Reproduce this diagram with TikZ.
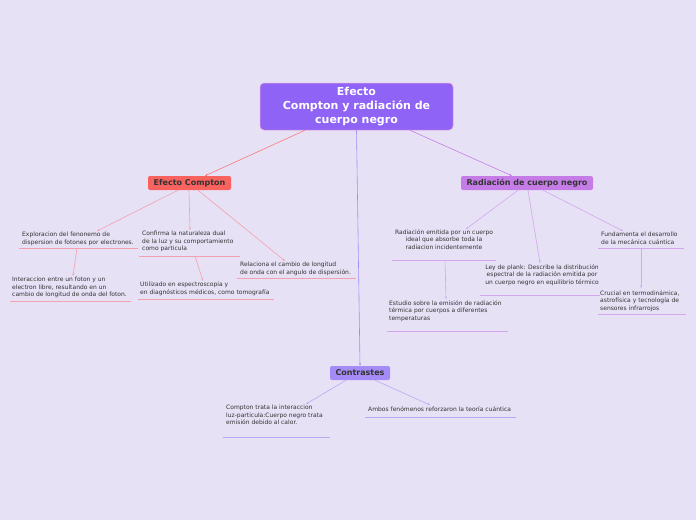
\documentclass[tikz,border=0pt]{standalone}
\usepackage{fontspec}
\setmainfont{DejaVu Sans}
\usetikzlibrary{arrows.meta}
\definecolor{bg}{HTML}{E7E1F6}
\definecolor{rootc}{HTML}{9063F7}
\definecolor{rootb}{HTML}{E7A3D6}
\definecolor{compc}{HTML}{F8625F}
\definecolor{radc}{HTML}{C67CE7}
\definecolor{conc}{HTML}{A48BF5}
\definecolor{compl}{HTML}{F4A0AE}
\definecolor{radl}{HTML}{D4A6EE}
\definecolor{conl}{HTML}{BAAAF5}
\definecolor{txt}{HTML}{333333}
\tikzset{
  hub/.style={rounded corners=2pt, inner xsep=5pt, inner ysep=2pt, text=txt,
     font=\fontsize{8}{9}\selectfont\bfseries, minimum height=14pt},
  leaf/.style={anchor=north west, inner sep=0pt, align=left, text=txt,
     font=\fontsize{6}{7.5}\selectfont},
  leafc/.style={anchor=north, inner sep=0pt, align=center, text=txt,
     font=\fontsize{6}{7.5}\selectfont},
  conn/.style={line width=0.6pt, -{Stealth[length=2.5pt,width=2pt]}},
  ul/.style={line width=0.8pt}
}
\begin{document}
\begin{tikzpicture}[x=1pt,y=-1pt]
\fill[bg] (0,0) rectangle (696,520);
\useasboundingbox (0,0) rectangle (696,520);

% root
\node[fill=rootc, draw=rootb, line width=0.5pt, rounded corners=4pt, minimum width=193pt,
  minimum height=47pt, text=white, align=center, inner sep=0pt,
  font=\fontsize{11}{14}\selectfont\bfseries] (root) at (356.5,106.5)
  {Efecto\\Compton y radiación de\\cuerpo negro};

% hubs
\node[hub, fill=compc, minimum width=83pt] (ec) at (189.5,183) {Efecto Compton};
\node[hub, fill=radc, minimum width=132pt] (rc) at (527,183) {Radiación de cuerpo negro};
\node[hub, fill=conc, minimum width=60pt] (co) at (360,373) {Contrastes};

% root connectors
\draw[conn, draw=compc!85] (root.south -| 305,0) -- (ec.north -| 205,0);
\draw[conn, draw=radc] (root.south -| 410,0) -- (rc.north -| 512,0);
\draw[conn, draw=conc] (root.south) -- (co.north);

% Efecto Compton leaves
\node[leaf] (c1) at (22,232) {Exploracion del fenonemo de\\dispersion de fotones por electrones.};
\draw[ul, compl] (19,248) -- (138,248);
\node[leaf] (c2) at (142,231) {Confirma la naturaleza dual\\de la luz y su comportamiento\\como particula};
\draw[ul, compl] (139,256) -- (240,256);
\node[leaf] (c3) at (240,262) {Relaciona el cambio de longitud\\de onda con el angulo de dispersión.};
\draw[ul, compl] (237,278) -- (356,278);
\node[leaf] (c11) at (12,277) {Interaccion entre un foton y un\\electron libre, resultando en un\\cambio de longitud de onda del foton.};
\draw[ul, compl] (10,301) -- (131,301);
\node[leaf] (c21) at (140,282) {Utilizado en espectroscopia y\\en diagnósticos médicos, como tomografía};
\draw[ul, compl] (138,299) -- (274,299);

\draw[conn, compl] (ec.south -| 178,0) -- (97,231);
\draw[conn, compl] (ec.south -| 189,0) -- (190,230);
\draw[conn, compl] (ec.south -| 198,0) -- (285,261);
\draw[conn, compl] (77,248) -- (73,276);
\draw[conn, compl] (195,256) -- (203,281);

% Radiacion leaves
\node[leafc] (r1) at (444,229) {Radiación emitida por un cuerpo\\ideal que absorbe toda la\\radiacion incidentemente};
\draw[ul, radl] (392,260) -- (496,260);
\node[leaf] (r11) at (389,300) {Estudio sobre la emisión de radiación\\térmica por cuerpos a diferentes\\ temperaturas};
\draw[ul, radl] (387,331) -- (508,331);
\node[leafc] (r2) at (542,264) {Ley de plank: Describe la distribución\\espectral de la radiación emitida por\\un cuerpo negro en equilibrio térmico};
\draw[ul, radl] (480,295) -- (600,295);
\node[leaf] (r3) at (601,232) {Fundamenta el desarrollo\\de la mecánica cuántica};
\draw[ul, radl] (598,248) -- (684,248);
\node[leaf] (r31) at (600,290) {Crucial en termodinámica,\\astrofísica y tecnología de\\sensores infrarrojos};
\draw[ul, radl] (598,314) -- (686,314);

\draw[conn, radl] (rc.south -| 518,0) -- (466,229);
\draw[conn, radl] (rc.south -| 528,0) -- (540,263);
\draw[conn, radl] (rc.south -| 543,0) -- (623,231);
\draw[conn, radl] (445,260) -- (446,299);
\draw[conn, radl] (641,248) -- (641,288);

% Contrastes leaves
\node[leaf] (k1) at (226,405) {Compton trata la interaccion\\luz-particula:Cuerpo negro trata\\emisión debido al calor.};
\draw[ul, conl] (223,437) -- (330,437);
\node[leaf] (k2) at (368,406) {Ambos fenómenos reforzaron la teoría cuántica};
\draw[ul, conl] (365,417) -- (516,417);

\draw[conn, conl] (co.south -| 346,0) -- (306,404);
\draw[conn, conl] (co.south -| 375,0) -- (430,405);
\end{tikzpicture}
\end{document}
